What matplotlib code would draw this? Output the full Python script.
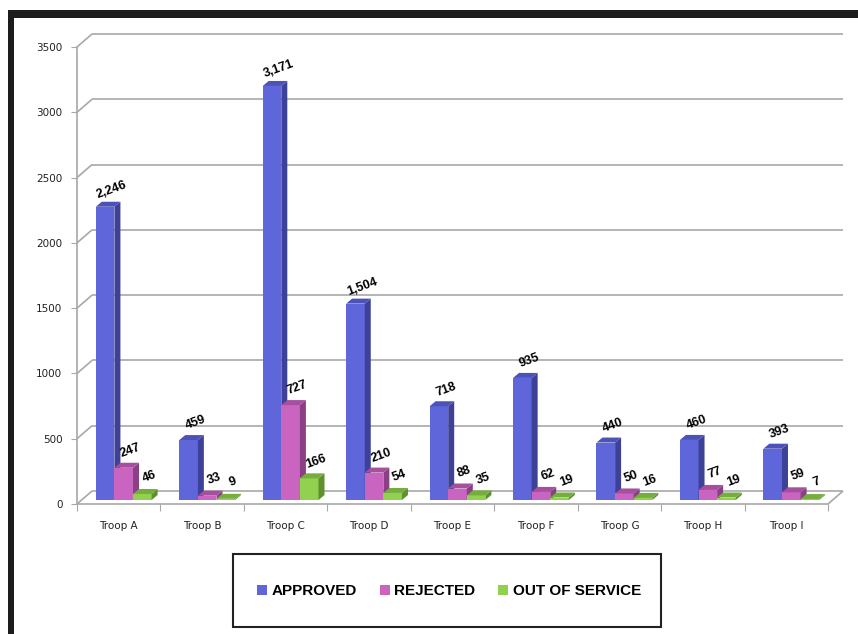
import matplotlib
matplotlib.use("Agg")
import matplotlib.pyplot as plt
from matplotlib.patches import Polygon, Rectangle, Patch
from matplotlib.transforms import offset_copy
import numpy as np

# ---- data -------------------------------------------------------------
troops = ["Troop A", "Troop B", "Troop C", "Troop D", "Troop E",
          "Troop F", "Troop G", "Troop H", "Troop I"]
approved = [2246, 459, 3171, 1504, 718, 935, 440, 460, 393]
rejected = [247, 33, 727, 210, 88, 62, 50, 77, 59]
out_of_service = [46, 9, 166, 54, 35, 19, 16, 19, 7]
series_names = ["APPROVED", "REJECTED", "OUT OF SERVICE"]
y_ticks = [0, 500, 1000, 1500, 2000, 2500, 3000, 3500]

# ---- styling ----------------------------------------------------------
front_colors = ["#5F66D9", "#C964C0", "#92D050"]
side_colors = ["#3D4197", "#8B3F84", "#5E9030"]
top_colors = ["#4C52B8", "#A64F9E", "#76AE3E"]
grid_color = "#a8a8a8"
label_font = "Liberation Sans"

W, H = 858, 634
fig = plt.figure(figsize=(W / 100, H / 100), dpi=100)
fig.patch.set_facecolor("white")

# axes frame = front plane of the pseudo-3D box
ax = fig.add_axes([77 / W, 130 / H, 751 / W, 457 / H])
n = len(troops)
ymax = y_ticks[-1]
ax.set_xlim(0, n)
ax.set_ylim(0, ymax)
ax.patch.set_visible(False)

px_x = ax.bbox.width / n        # pixels per category
px_y = ax.bbox.height / ymax    # pixels per unit


def depth(dx_px, dy_px):
    """Pixel offset expressed in data units."""
    return dx_px / px_x, dy_px / px_y


# walls and floor
fdx, fdy = depth(15, 13)
gkw = dict(color=grid_color, lw=1.2, zorder=1, clip_on=False,
           solid_capstyle="butt")
for v in y_ticks:
    ax.plot([0, fdx], [v, v + fdy], **gkw)
    ax.plot([fdx, n + fdx], [v + fdy, v + fdy], **gkw)
ax.plot([n, n + fdx], [0, fdy], **gkw)

for s in ["top", "right"]:
    ax.spines[s].set_visible(False)
for s in ["left", "bottom"]:
    ax.spines[s].set_color(grid_color)
    ax.spines[s].set_linewidth(1.2)

# ---- bars -------------------------------------------------------------
bw = 18.6 / px_x
bdx, bdy = depth(6, 5)
bar_tr = offset_copy(ax.transData, fig=fig, x=5, y=4, units="dots")
lab_tr = offset_copy(ax.transData, fig=fig, x=12, y=21, units="dots")

series = [approved, rejected, out_of_service]
for j, vals in enumerate(series):
    xs = np.arange(n) + 0.5 + (j - 1) * bw
    z = 3 + j
    ax.bar(xs, vals, width=bw, color=front_colors[j], linewidth=0,
           transform=bar_tr, zorder=z, clip_on=False)
    for x, h in zip(xs, vals):
        xl, xr = x - bw / 2, x + bw / 2
        ax.add_patch(Polygon([[xr, 0], [xr, h], [xr + bdx, h + bdy], [xr + bdx, bdy]],
                             closed=True, facecolor=side_colors[j], lw=0,
                             transform=bar_tr, zorder=z, clip_on=False))
        ax.add_patch(Polygon([[xl, h], [xr, h], [xr + bdx, h + bdy], [xl + bdx, h + bdy]],
                             closed=True, facecolor=top_colors[j], lw=0,
                             transform=bar_tr, zorder=z, clip_on=False))
        ax.text(x, h, f"{h:,}", transform=lab_tr, ha="center", va="center",
                rotation=20, rotation_mode="anchor", fontsize=9,
                fontweight="bold", family=label_font, color="black", zorder=10)

ax.set_xlim(0, n)
ax.set_ylim(0, ymax)

# ---- ticks ------------------------------------------------------------
ax.set_yticks(y_ticks)
ax.set_yticklabels([str(v) for v in y_ticks])
ax.tick_params(axis="y", length=4, color=grid_color, pad=6.5,
               labelsize=7.5, labelcolor="#222222")
ax.set_xticks(np.arange(n + 1))
ax.set_xticklabels([])
ax.set_xticks(np.arange(n) + 0.5, minor=True)
ax.set_xticklabels(troops, minor=True)
ax.tick_params(axis="x", which="major", length=5, color=grid_color)
ax.tick_params(axis="x", which="minor", length=0, pad=12,
               labelsize=7.5, labelcolor="#222222")

# ---- legend -----------------------------------------------------------
fig.add_artist(Rectangle((233 / W, 1 - 627 / H), (661 - 233) / W, (627 - 554) / H,
                         fill=False, edgecolor="#222222", lw=1.5,
                         transform=fig.transFigure))
handles = [Patch(facecolor=c, edgecolor="none") for c in front_colors]
fig.legend(handles, series_names, loc="center",
           bbox_to_anchor=(449 / W, 1 - 591 / H), ncol=3, frameon=False,
           prop=dict(family=label_font, weight="bold", size=11),
           handlelength=0.65, handleheight=0.65, handletextpad=0.3,
           columnspacing=1.5)

# ---- page border --------------------------------------------------------
border = "#1c1c1c"
fig.add_artist(Rectangle((8 / W, 0), 6 / W, 1 - 10 / H, color=border,
                         transform=fig.transFigure, lw=0))
fig.add_artist(Rectangle((8 / W, 1 - 18 / H), 1 - 8 / W, 8 / H, color=border,
                         transform=fig.transFigure, lw=0))

fig.savefig("out.png", dpi=100, facecolor="white")
